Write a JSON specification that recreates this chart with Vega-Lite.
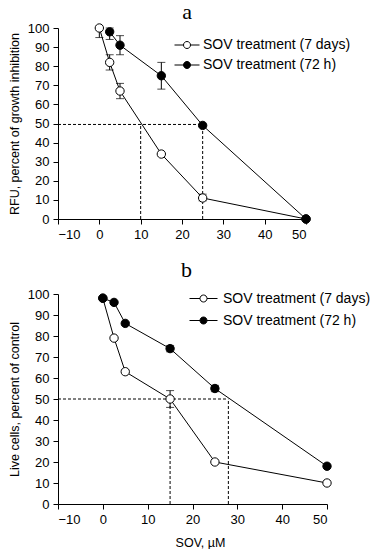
{
  "$schema": "https://vega.github.io/schema/vega-lite/v6.json",
  "background": "white",
  "padding": {"left": 8, "top": 0, "right": 0, "bottom": 0},
  "spacing": 18,
  "resolve": {"scale": {"fill": "independent"}, "legend": {"fill": "independent"}},
  "config": {
    "font": "Liberation Sans",
    "view": {"stroke": null},
    "scale": {"continuousPadding": 0},
    "axis": {
      "grid": false,
      "domainColor": "black",
      "tickColor": "black",
      "labelColor": "black",
      "titleColor": "black",
      "labelFontSize": 13,
      "titleFontSize": 12.5,
      "titleFontWeight": "normal",
      "tickSize": 5,
      "labelPadding": 4,
      "titlePadding": 6,
      "labelOverlap": false
    },
    "title": {"font": "Liberation Serif", "fontSize": 22, "fontWeight": "normal", "color": "black"},
    "legend": {
      "labelFontSize": 14,
      "labelColor": "black",
      "padding": 0,
      "symbolStrokeColor": "black",
      "symbolStrokeWidth": 1
    }
  },
  "vconcat": [
    {
      "width": 248,
      "height": 191,
      "title": {"text": "a", "offset": -2, "dx": 5},
      "layer": [
        {
          "data": {"values": [
            {"x1": -10, "x2": 25, "y1": 49.5, "y2": 49.5},
            {"x1": 10, "x2": 10, "y1": 0, "y2": 49.5},
            {"x1": 25, "x2": 25, "y1": 0, "y2": 49.5}
          ]},
          "mark": {"type": "rule", "strokeDash": [3, 2], "color": "black", "strokeWidth": 1},
          "encoding": {
            "x": {"field": "x1", "type": "quantitative", "scale": {"domain": [-10, 50], "nice": false, "padding": 0}, "axis": {"values": [-10, 0, 10, 20, 30, 40, 50], "title": null}},
            "x2": {"field": "x2"},
            "y": {"field": "y1", "type": "quantitative", "scale": {"domain": [0, 100], "nice": false, "padding": 0}, "axis": {"values": [0, 10, 20, 30, 40, 50, 60, 70, 80, 90, 100], "title": "RFU, percent of growth inhibition"}},
            "y2": {"field": "y2"}
          }
        },
        {
          "data": {"values": [
            {"series": "SOV treatment (7 days)", "x": 0, "y": 100, "lo": 95, "hi": 100},
            {"series": "SOV treatment (7 days)", "x": 2.5, "y": 82, "lo": 78, "hi": 86},
            {"series": "SOV treatment (7 days)", "x": 5, "y": 67, "lo": 63, "hi": 71},
            {"series": "SOV treatment (7 days)", "x": 15, "y": 34, "lo": null, "hi": null},
            {"series": "SOV treatment (7 days)", "x": 25, "y": 11, "lo": 9.5, "hi": 13},
            {"series": "SOV treatment (7 days)", "x": 50, "y": 0, "lo": null, "hi": null},
            {"series": "SOV treatment (72 h)", "x": 2.5, "y": 98, "lo": 94, "hi": 100},
            {"series": "SOV treatment (72 h)", "x": 5, "y": 91, "lo": 86, "hi": 96},
            {"series": "SOV treatment (72 h)", "x": 15, "y": 75, "lo": 68, "hi": 82},
            {"series": "SOV treatment (72 h)", "x": 25, "y": 49, "lo": null, "hi": null},
            {"series": "SOV treatment (72 h)", "x": 50, "y": 0, "lo": null, "hi": null}
          ]},
          "layer": [
            {
              "transform": [{"filter": "datum.lo != null"}],
              "mark": {"type": "errorbar", "ticks": {"size": 8, "color": "black"}, "color": "black"},
              "encoding": {
                "x": {"field": "x", "type": "quantitative", "scale": {"domain": [-10, 50], "nice": false, "padding": 0}, "axis": {"values": [-10, 0, 10, 20, 30, 40, 50], "title": null}},
                "y": {"field": "lo", "type": "quantitative", "scale": {"domain": [0, 100], "nice": false, "padding": 0}, "axis": {"values": [0, 10, 20, 30, 40, 50, 60, 70, 80, 90, 100], "title": "RFU, percent of growth inhibition"}},
                "y2": {"field": "hi"}
              }
            },
            {
              "mark": {"type": "line", "color": "black", "strokeWidth": 1},
              "encoding": {
                "x": {"field": "x", "type": "quantitative", "scale": {"domain": [-10, 50], "nice": false, "padding": 0}, "axis": {"values": [-10, 0, 10, 20, 30, 40, 50], "title": null}},
                "y": {"field": "y", "type": "quantitative", "scale": {"domain": [0, 100], "nice": false, "padding": 0}, "axis": {"values": [0, 10, 20, 30, 40, 50, 60, 70, 80, 90, 100], "title": "RFU, percent of growth inhibition"}},
                "detail": {"field": "series"}
              }
            },
            {
              "mark": {"type": "point", "shape": "circle", "filled": true, "size": 70, "stroke": "black", "strokeWidth": 1, "opacity": 1},
              "encoding": {
                "x": {"field": "x", "type": "quantitative", "scale": {"domain": [-10, 50], "nice": false, "padding": 0}, "axis": {"values": [-10, 0, 10, 20, 30, 40, 50], "title": null}},
                "y": {"field": "y", "type": "quantitative", "scale": {"domain": [0, 100], "nice": false, "padding": 0}, "axis": {"values": [0, 10, 20, 30, 40, 50, 60, 70, 80, 90, 100], "title": "RFU, percent of growth inhibition"}},
                "fill": {
                  "field": "series", "type": "nominal",
                  "scale": {"domain": ["SOV treatment (7 days)", "SOV treatment (72 h)"], "range": ["white", "black"]},
                  "legend": {
                    "title": null, "orient": "none", "legendX": 116, "legendY": 4, "rowPadding": -3,
                    "symbolSize": 625, "labelOffset": 3,
                    "symbolType": "M-1,0L-0.28,0M0.28,0L1,0M0.28,0A0.28,0.28 0 1 1 -0.28,0A0.28,0.28 0 1 1 0.28,0Z"
                  }
                }
              }
            }
          ]
        }
      ]
    },
    {
      "width": 269,
      "height": 210,
      "title": {"text": "b", "offset": 2, "dx": -6},
      "layer": [
        {
          "data": {"values": [
            {"x1": -10, "x2": 28, "y1": 50, "y2": 50},
            {"x1": 15, "x2": 15, "y1": 0, "y2": 50},
            {"x1": 28, "x2": 28, "y1": 0, "y2": 50}
          ]},
          "mark": {"type": "rule", "strokeDash": [3, 2], "color": "black", "strokeWidth": 1},
          "encoding": {
            "x": {"field": "x1", "type": "quantitative", "scale": {"domain": [-10, 50], "nice": false, "padding": 0}, "axis": {"values": [-10, 0, 10, 20, 30, 40, 50], "title": "SOV, µM", "titlePadding": 10, "titleX": 142}},
            "x2": {"field": "x2"},
            "y": {"field": "y1", "type": "quantitative", "scale": {"domain": [0, 100], "nice": false, "padding": 0}, "axis": {"values": [0, 10, 20, 30, 40, 50, 60, 70, 80, 90, 100], "title": "Live cells, percent of control"}},
            "y2": {"field": "y2"}
          }
        },
        {
          "data": {"values": [
            {"series": "SOV treatment (7 days)", "x": 0, "y": 98, "lo": null, "hi": null},
            {"series": "SOV treatment (7 days)", "x": 2.5, "y": 79, "lo": null, "hi": null},
            {"series": "SOV treatment (7 days)", "x": 5, "y": 63, "lo": null, "hi": null},
            {"series": "SOV treatment (7 days)", "x": 15, "y": 50, "lo": 46, "hi": 54},
            {"series": "SOV treatment (7 days)", "x": 25, "y": 20, "lo": null, "hi": null},
            {"series": "SOV treatment (7 days)", "x": 50, "y": 10, "lo": null, "hi": null},
            {"series": "SOV treatment (72 h)", "x": 0, "y": 98, "lo": null, "hi": null},
            {"series": "SOV treatment (72 h)", "x": 2.5, "y": 96, "lo": null, "hi": null},
            {"series": "SOV treatment (72 h)", "x": 5, "y": 86, "lo": null, "hi": null},
            {"series": "SOV treatment (72 h)", "x": 15, "y": 74, "lo": 72.5, "hi": 75.5},
            {"series": "SOV treatment (72 h)", "x": 25, "y": 55, "lo": 53.5, "hi": 56.5},
            {"series": "SOV treatment (72 h)", "x": 50, "y": 18, "lo": null, "hi": null}
          ]},
          "layer": [
            {
              "transform": [{"filter": "datum.lo != null"}],
              "mark": {"type": "errorbar", "ticks": {"size": 8, "color": "black"}, "color": "black"},
              "encoding": {
                "x": {"field": "x", "type": "quantitative", "scale": {"domain": [-10, 50], "nice": false, "padding": 0}, "axis": {"values": [-10, 0, 10, 20, 30, 40, 50], "title": "SOV, µM", "titlePadding": 10, "titleX": 142}},
                "y": {"field": "lo", "type": "quantitative", "scale": {"domain": [0, 100], "nice": false, "padding": 0}, "axis": {"values": [0, 10, 20, 30, 40, 50, 60, 70, 80, 90, 100], "title": "Live cells, percent of control"}},
                "y2": {"field": "hi"}
              }
            },
            {
              "mark": {"type": "line", "color": "black", "strokeWidth": 1},
              "encoding": {
                "x": {"field": "x", "type": "quantitative", "scale": {"domain": [-10, 50], "nice": false, "padding": 0}, "axis": {"values": [-10, 0, 10, 20, 30, 40, 50], "title": "SOV, µM", "titlePadding": 10, "titleX": 142}},
                "y": {"field": "y", "type": "quantitative", "scale": {"domain": [0, 100], "nice": false, "padding": 0}, "axis": {"values": [0, 10, 20, 30, 40, 50, 60, 70, 80, 90, 100], "title": "Live cells, percent of control"}},
                "detail": {"field": "series"}
              }
            },
            {
              "mark": {"type": "point", "shape": "circle", "filled": true, "size": 70, "stroke": "black", "strokeWidth": 1, "opacity": 1},
              "encoding": {
                "x": {"field": "x", "type": "quantitative", "scale": {"domain": [-10, 50], "nice": false, "padding": 0}, "axis": {"values": [-10, 0, 10, 20, 30, 40, 50], "title": "SOV, µM", "titlePadding": 10, "titleX": 142}},
                "y": {"field": "y", "type": "quantitative", "scale": {"domain": [0, 100], "nice": false, "padding": 0}, "axis": {"values": [0, 10, 20, 30, 40, 50, 60, 70, 80, 90, 100], "title": "Live cells, percent of control"}},
                "fill": {
                  "field": "series", "type": "nominal",
                  "scale": {"domain": ["SOV treatment (7 days)", "SOV treatment (72 h)"], "range": ["white", "black"]},
                  "legend": {
                    "title": null, "orient": "none", "legendX": 131, "legendY": -10, "rowPadding": -5,
                    "symbolSize": 784, "labelOffset": 5,
                    "symbolType": "M-1,0L-0.25,0M0.25,0L1,0M0.25,0A0.25,0.25 0 1 1 -0.25,0A0.25,0.25 0 1 1 0.25,0Z"
                  }
                }
              }
            }
          ]
        }
      ]
    }
  ]
}
